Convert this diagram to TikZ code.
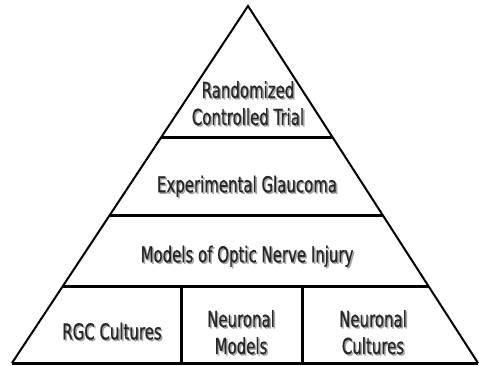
\documentclass[tikz,border=0pt]{standalone}
\usepackage{fontspec}
\newfontfamily\tierfont{DejaVu Sans}[FakeStretch=0.68, FakeBold=0.6]
\usetikzlibrary{calc}

\newcommand{\shadowed}[1]{\makebox[0pt][l]{\raisebox{-1.5pt}{\hspace{1.5pt}\textcolor{black!35}{#1}}}#1}

\begin{document}
\begin{tikzpicture}[x=1pt,y=-1pt,
        side/.style={line width=2pt, line join=miter},
        tier/.style={line width=3pt},
        tierlabel/.style={font=\tierfont\fontsize{22}{27}\selectfont, align=center, text=black!85}
    ]
    \useasboundingbox (0,0) rectangle (479,366);

    % Outline
    \coordinate (apex) at (248,6);
    \coordinate (bl) at (12,363);
    \coordinate (br) at (478,363);
    \draw[side] (bl) -- (apex) -- (br);

    % Tier lines
    \foreach \name/\t in {top/0.3687, mid/0.5866, low/0.7849} {
        \coordinate (\name-l) at ($(apex)!\t!(bl)$);
        \coordinate (\name-r) at ($(apex)!\t!(br)$);
        \draw[tier] (\name-l) -- (\name-r);
    }
    \draw[tier] (bl) -- (br);

    % Base dividers
    \coordinate (div1) at (181,363);
    \coordinate (div2) at (302,363);
    \draw[tier] (div1) -- (div1 |- low-l);
    \draw[tier] (div2) -- (div2 |- low-l);

    % Labels
    \node[tierlabel] (rct) at (248,104) {\shadowed{Randomized}\\\shadowed{Controlled Trial}};
    \node[tierlabel] (glaucoma) at (247,187) {\shadowed{Experimental Glaucoma}};
    \node[tierlabel] (injury) at (247,257) {\shadowed{Models of Optic Nerve Injury}};
    \node[tierlabel] (rgc) at (112,332) {\shadowed{RGC Cultures}};
    \node[tierlabel] (models) at (241,333) {\shadowed{Neuronal}\\\shadowed{Models}};
    \node[tierlabel] (cultures) at (373,333) {\shadowed{Neuronal}\\\shadowed{Cultures}};

\end{tikzpicture}
\end{document}
